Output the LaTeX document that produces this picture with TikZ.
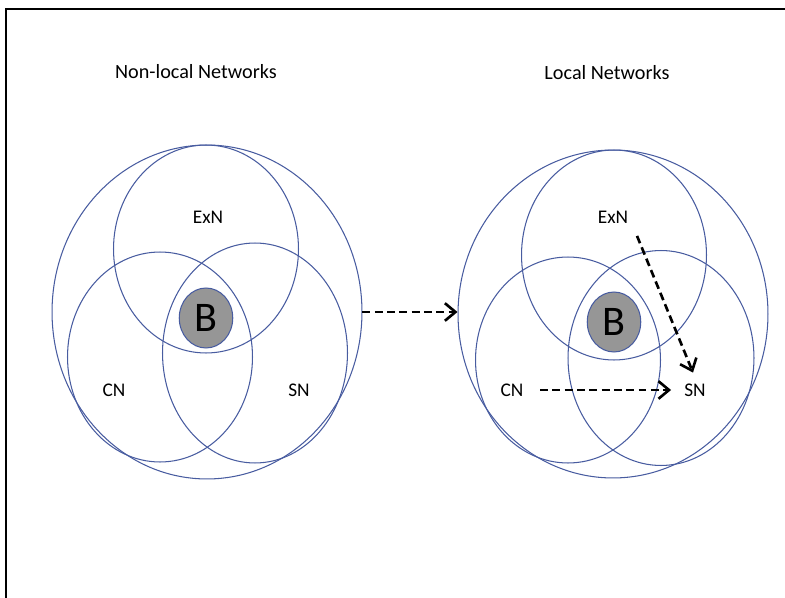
\documentclass[tikz,border=0pt]{standalone}
\usepackage{fontspec}
\setmainfont{Carlito}
\usetikzlibrary{arrows.meta, positioning, shapes.geometric}
\definecolor{ringblue}{RGB}{72,92,160}
\definecolor{bgray}{RGB}{150,150,150}

\begin{document}
\begin{tikzpicture}[x=0.02cm, y=-0.02cm, font=\fontsize{11}{13}\selectfont,
    ring/.style={ellipse, draw=ringblue, line width=0.6pt, inner sep=0pt},
    core/.style={ellipse, draw=ringblue, fill=bgray, line width=0.6pt, inner sep=0pt,
        minimum width=1.07cm, minimum height=1.2cm, font=\fontsize{24}{24}\selectfont},
    flow/.style={-{Straight Barb[length=6pt, width=10pt, line width=1.5pt]}, line width=1.5pt,
        dash pattern=on 4.5pt off 2.5pt}]
    \useasboundingbox (0,0) rectangle (785,598);
    \draw[line width=1.1pt] (785,9) -| (6,598);

    % non-local networks
    \node[font=\fontsize{11.5}{13}\selectfont] (titleL) at (196,72) {Non-local Networks};
    \node[ring, minimum width=6.2cm, minimum height=6.68cm] (outerL) at (207,312) {};
    \node[ring, minimum width=3.7cm, minimum height=4.16cm] (exnCircL) at (206,249) {};
    \node[ring, minimum width=3.7cm, minimum height=4.2cm] (cnCircL) at (160,357) {};
    \node[ring, minimum width=3.7cm, minimum height=4.4cm] (snCircL) at (255,353) {};
    \node[core] (bL) at (206,318) {B};
    \node (exnL) at (208,217) {ExN};
    \node (cnL) at (114,390) {CN};
    \node (snL) at (299,390) {SN};

    % local networks
    \node[font=\fontsize{11.5}{13}\selectfont] (titleR) at (607,73) {Local Networks};
    \node[ring, minimum width=6.2cm, minimum height=6.56cm] (outerR) at (613,314) {};
    \node[ring, minimum width=3.7cm, minimum height=4.2cm] (exnCircR) at (614,255) {};
    \node[ring, minimum width=3.7cm, minimum height=4.12cm] (cnCircR) at (568,360) {};
    \node[ring, minimum width=3.72cm, minimum height=4.3cm] (snCircR) at (661,358) {};
    \node[core] (bR) at (614,322) {B};
    \node (exnR) at (613,217) {ExN};
    \node (cnR) at (512,390) {CN};
    \node (snR) at (695,390) {SN};

    % arrows
    \draw[flow] (outerL.east) -- (outerL.east -| outerR.west);
    \draw[flow, shorten <=6pt, shorten >=4pt] (cnR.east) -- (snR.west);
    \draw[flow, shorten <=4pt, shorten >=3pt] (exnR.south east) -- (snR.north);
\end{tikzpicture}
\end{document}
